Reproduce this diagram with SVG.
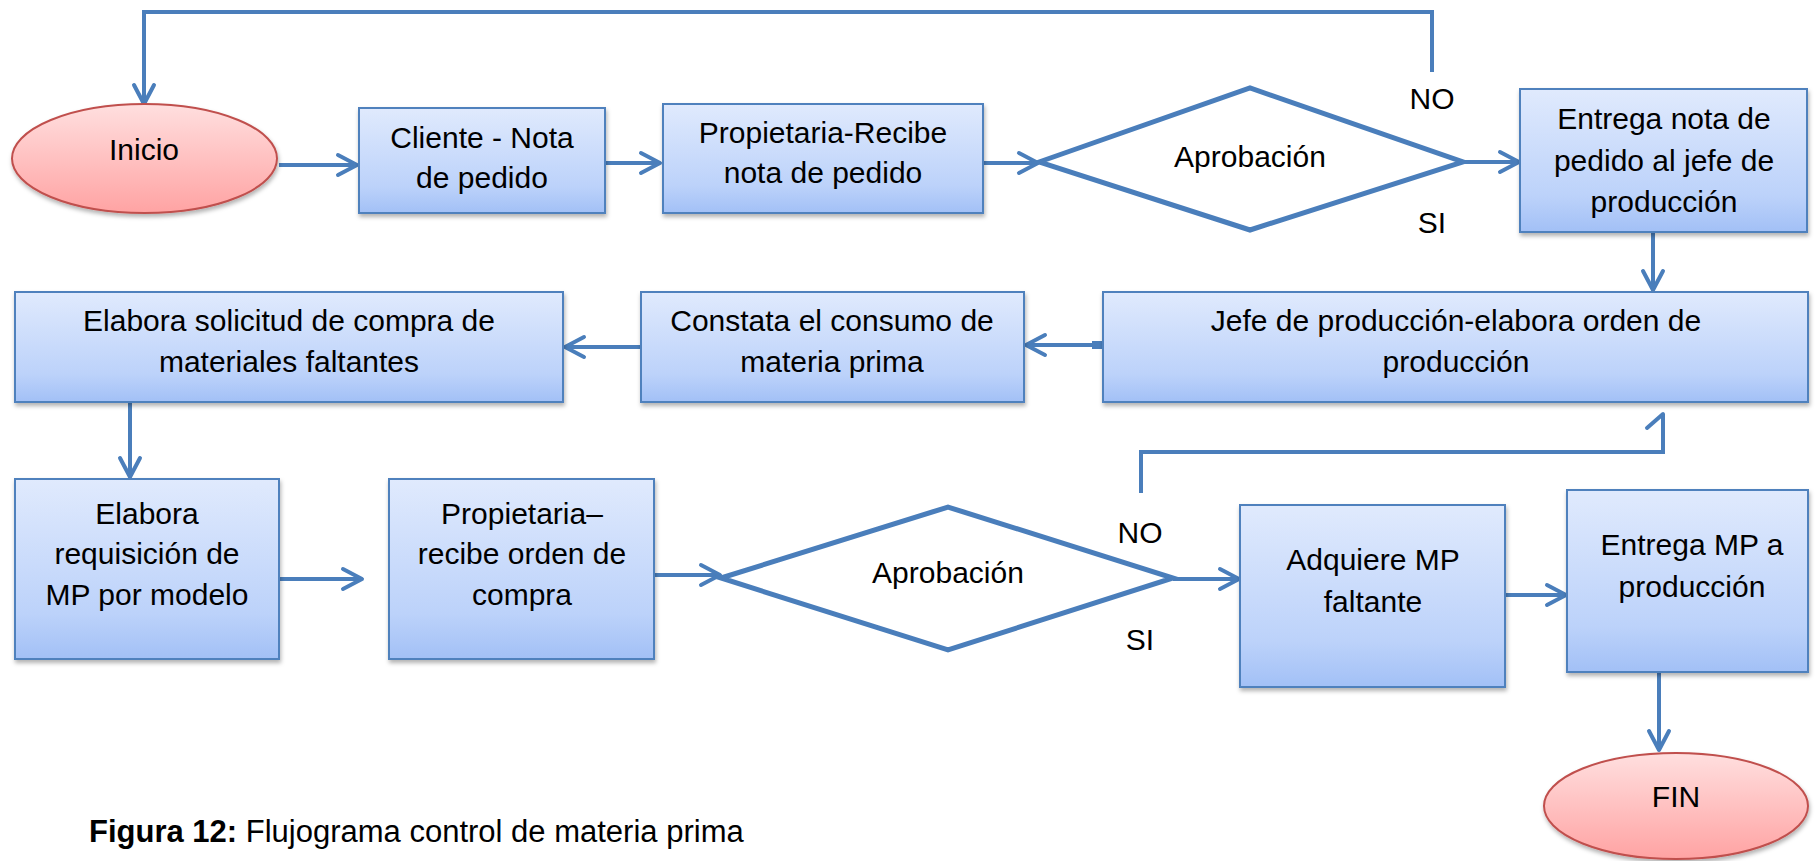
<svg xmlns="http://www.w3.org/2000/svg" width="1816" height="861" viewBox="0 0 1816 861">
<style>
.box{fill:url(#gBlue);stroke:#4f81bd;stroke-width:2;filter:url(#sh)}
.term{fill:url(#gRed);stroke:#c0504d;stroke-width:2;filter:url(#sh)}
.dia{fill:#fff;stroke:#4a7ebb;stroke-width:5;stroke-linejoin:miter}
.t{font-family:"Liberation Sans",Arial,sans-serif;font-size:30px;fill:#000;text-anchor:middle}
.cap{font-family:"Liberation Sans",Arial,sans-serif;font-size:31px;fill:#000}
.c{fill:none;stroke:#4a7ebb;stroke-width:4}
.a{marker-end:url(#arr)}
</style>
<defs>
<linearGradient id="gBlue" x1="0" y1="0" x2="0" y2="1">
<stop offset="0" stop-color="#e0eafd"/>
<stop offset="0.75" stop-color="#bcd2fa"/>
<stop offset="1" stop-color="#a2c0f6"/>
</linearGradient>
<linearGradient id="gRed" x1="0" y1="0" x2="0" y2="1">
<stop offset="0" stop-color="#ffdfdf"/>
<stop offset="1" stop-color="#ffa3a3"/>
</linearGradient>
<filter id="sh" x="-5%" y="-5%" width="115%" height="125%">
<feDropShadow dx="1" dy="3" stdDeviation="2" flood-color="#000" flood-opacity="0.3"/>
</filter>
<marker id="arr" markerUnits="userSpaceOnUse" markerWidth="26" markerHeight="26" viewBox="0 0 26 26" refX="22" refY="13" orient="auto">
<path d="M3,3 L22,13 L3,23" fill="none" stroke="#4a7ebb" stroke-width="4" stroke-linecap="round" stroke-linejoin="round"/>
</marker>
</defs>

<g id="connectors">
<path class="c a" d="M1432,72 V12 H144 V104"/>
<path class="c a" d="M279,165 H357"/>
<path class="c a" d="M605,163 H660"/>
<path class="c a" d="M983,163 H1038"/>
<path class="c a" d="M1463,162 H1519"/>
<path class="c a" d="M1653,232 V290"/>
<path class="c a" d="M1092,345 H1026"/>
<rect x="1092" y="341" width="11" height="8" fill="#4a7ebb"/>
<path class="c a" d="M641,347 H565"/>
<path class="c a" d="M130,402 V477"/>
<path class="c a" d="M279,579 H362"/>
<path class="c a" d="M655,575 H720"/>
<path class="c" d="M1141,493 V452 H1663 V414"/>
<path class="c" d="M1647,428 L1663,414" stroke-linecap="round"/>
<path class="c a" d="M1173,579 H1239"/>
<path class="c a" d="M1505,595 H1566"/>
<path class="c a" d="M1659,672 V750"/>
</g>

<g id="inicio">
<ellipse class="term" cx="144.5" cy="158.5" rx="132.5" ry="54.5"/>
<text class="t" x="144" y="160">Inicio</text>
</g>
<g id="cliente">
<rect class="box" x="359" y="108" width="246" height="105"/>
<text class="t" x="482" y="148">Cliente - Nota</text>
<text class="t" x="482" y="188">de pedido</text>
</g>
<g id="propietaria1">
<rect class="box" x="663" y="104" width="320" height="109"/>
<text class="t" x="823" y="143">Propietaria-Recibe</text>
<text class="t" x="823" y="183">nota de pedido</text>
</g>
<g id="aprobacion1">
<polygon class="dia" points="1039,162 1250,88 1463,162 1250,230"/>
<text class="t" x="1250" y="167">Aprobación</text>
</g>
<g id="label-no1"><text class="t" x="1432" y="109">NO</text></g>
<g id="label-si1"><text class="t" x="1432" y="233">SI</text></g>
<g id="entrega-nota">
<rect class="box" x="1520" y="89" width="287" height="143"/>
<text class="t" x="1664" y="129">Entrega nota de</text>
<text class="t" x="1664" y="171">pedido al jefe de</text>
<text class="t" x="1664" y="212">producción</text>
</g>
<g id="jefe">
<rect class="box" x="1103" y="292" width="705" height="110"/>
<text class="t" x="1456" y="331">Jefe de producción-elabora orden de</text>
<text class="t" x="1456" y="372">producción</text>
</g>
<g id="constata">
<rect class="box" x="641" y="292" width="383" height="110"/>
<text class="t" x="832" y="331">Constata el consumo de</text>
<text class="t" x="832" y="372">materia prima</text>
</g>
<g id="elabora-solicitud">
<rect class="box" x="15" y="292" width="548" height="110"/>
<text class="t" x="289" y="331">Elabora solicitud de compra de</text>
<text class="t" x="289" y="372">materiales faltantes</text>
</g>
<g id="elabora-requisicion">
<rect class="box" x="15" y="479" width="264" height="180"/>
<text class="t" x="147" y="524">Elabora</text>
<text class="t" x="147" y="564">requisición de</text>
<text class="t" x="147" y="605">MP por modelo</text>
</g>
<g id="propietaria2">
<rect class="box" x="389" y="479" width="265" height="180"/>
<text class="t" x="522" y="524">Propietaria–</text>
<text class="t" x="522" y="564">recibe orden de</text>
<text class="t" x="522" y="605">compra</text>
</g>
<g id="aprobacion2">
<polygon class="dia" points="721,578 948,507 1173,578 948,650"/>
<text class="t" x="948" y="583">Aprobación</text>
</g>
<g id="label-no2"><text class="t" x="1140" y="543">NO</text></g>
<g id="label-si2"><text class="t" x="1140" y="650">SI</text></g>
<g id="adquiere">
<rect class="box" x="1240" y="505" width="265" height="182"/>
<text class="t" x="1373" y="570">Adquiere MP</text>
<text class="t" x="1373" y="612">faltante</text>
</g>
<g id="entrega-mp">
<rect class="box" x="1567" y="490" width="241" height="182"/>
<text class="t" x="1692" y="555">Entrega MP a</text>
<text class="t" x="1692" y="597">producción</text>
</g>
<g id="fin">
<ellipse class="term" cx="1676" cy="806" rx="132" ry="53"/>
<text class="t" x="1676" y="807">FIN</text>
</g>
<g id="caption">
<text class="cap" x="89" y="842"><tspan font-weight="bold">Figura 12:</tspan> Flujograma control de materia prima</text>
</g>
</svg>
